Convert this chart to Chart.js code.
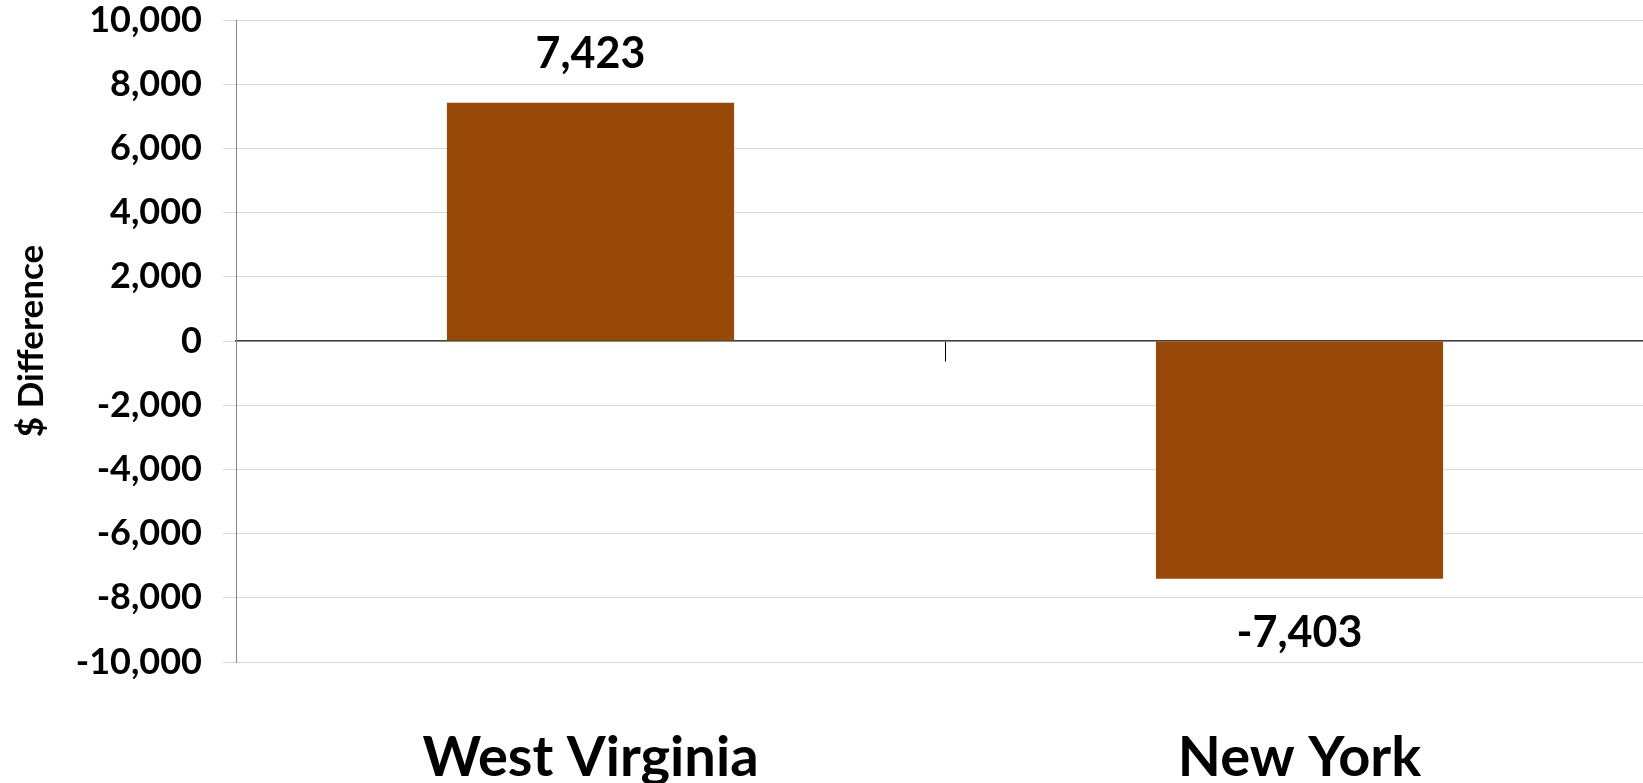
<!DOCTYPE html>
<html>
<head>
<meta charset="utf-8">
<script src="https://cdn.jsdelivr.net/npm/chart.js@4"></script>
<style>
  html, body { margin: 0; padding: 0; background: #fff; overflow: hidden; }
  #wrap { position: relative; width: 1655px; height: 783px; }
</style>
</head>
<body>
<div id="wrap"><canvas id="diffChart"></canvas></div>
<script>
// datos del grafico
const categories = ['West Virginia', 'New York'];
const diffValues = [7423, -7403];
const yTickValues = [-10000, -8000, -6000, -4000, -2000, 0, 2000, 4000, 6000, 8000, 10000];

const fmt = v => v.toLocaleString('en-US');

// etiquetas de valor sobre / bajo cada barra
const valueLabels = {
  id: 'valueLabels',
  afterDatasetsDraw(chart) {
    const ctx = chart.ctx;
    const meta = chart.getDatasetMeta(0);
    ctx.save();
    ctx.font = 'bold 43px Lato';
    ctx.fillStyle = '#000';
    ctx.textAlign = 'center';
    ctx.textBaseline = 'alphabetic';
    meta.data.forEach((bar, i) => {
      const v = diffValues[i];
      const y = v >= 0 ? bar.y - 35 : bar.y + 68;
      ctx.fillText(fmt(v), bar.x, y);
    });
    ctx.restore();
  }
};

const ctx = document.getElementById('diffChart').getContext('2d');

new Chart(ctx, {
  type: 'bar',
  data: {
    labels: categories,
    datasets: [{
      data: diffValues,
      backgroundColor: '#984807',
      borderWidth: 0,
      barPercentage: 0.405,
      categoryPercentage: 1
    }]
  },
  options: {
    responsive: true,
    maintainAspectRatio: false,
    animation: false,
    layout: { padding: { top: 20, bottom: 121, left: 0, right: 1 } },
    plugins: {
      legend: { display: false },
      tooltip: { enabled: false }
    },
    scales: {
      x: {
        position: { y: 0 },
        // sin relleno extra para que no encoja el area del grafico
        afterFit: scale => { scale.paddingLeft = 0; scale.paddingRight = 0; },
        border: { display: true, color: '#404040', width: 1.5 },
        grid: { drawOnChartArea: false, drawTicks: true, tickLength: 20, color: '#000', lineWidth: 1 },
        ticks: {
          padding: 363,
          color: '#000',
          font: { family: 'Lato', size: 56, weight: 'bold' }
        }
      },
      y: {
        min: -10000,
        max: 10000,
        afterBuildTicks: scale => {
          scale.ticks = yTickValues.map(v => ({ value: v }));
        },
        afterFit: scale => {
          scale.width = 236;
          scale.paddingTop = 0;
          scale.paddingBottom = 0;
        },
        border: { display: true, color: '#868686', width: 1 },
        grid: { color: '#d9d9d9', lineWidth: 1, tickLength: 13 },
        ticks: {
          padding: 21,
          color: '#000',
          font: { family: 'Lato', size: 36, weight: 'bold', lineHeight: 1 },
          callback: value => fmt(value)
        },
        title: {
          display: true,
          text: '$ Difference',
          color: '#000',
          padding: { top: 11, bottom: 0 },
          font: { family: 'Lato', size: 35, weight: 'bold' }
        }
      }
    }
  },
  plugins: [valueLabels]
});
</script>
</body>
</html>
